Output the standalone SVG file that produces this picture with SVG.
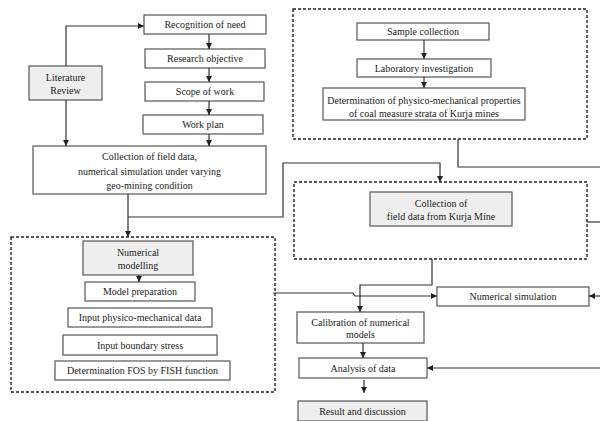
<svg xmlns="http://www.w3.org/2000/svg" width="600" height="421" viewBox="0 0 600 421">
<defs>
<marker id="ah" viewBox="0 0 6 6" refX="6" refY="3" markerWidth="6" markerHeight="6" markerUnits="userSpaceOnUse" orient="auto">
<path d="M0,0 L6,3 L0,6 z" fill="#222"/>
</marker>
<style>
.box{fill:#fff;stroke:#555;stroke-width:1.2}
.gbox{fill:#eeeeee;stroke:#555;stroke-width:1.2}
.dash{fill:none;stroke:#222;stroke-width:1.4;stroke-dasharray:3 2}
.t{font-family:"Liberation Serif","Times New Roman",serif;font-size:10px;fill:#222;text-anchor:middle}
.c{fill:none;stroke:#333;stroke-width:1.2}
.ca{fill:none;stroke:#333;stroke-width:1.2;marker-end:url(#ah)}
</style>
</defs>
<rect width="600" height="421" fill="#fff"/>

<g id="group-top-right">
<rect class="dash" x="293" y="9" width="294" height="130"/>
</g>
<g id="group-kurja">
<rect class="dash" x="294" y="182" width="293" height="77"/>
</g>
<g id="group-modelling">
<rect class="dash" x="11" y="237" width="264" height="155"/>
</g>

<g id="n-recognition"><rect class="box" x="144" y="15" width="122" height="19"/><text class="t" x="205" y="28">Recognition of need</text></g>
<g id="n-objective"><rect class="box" x="145" y="49" width="120" height="19"/><text class="t" x="205" y="62">Research objective</text></g>
<g id="n-scope"><rect class="box" x="145" y="82" width="119" height="19"/><text class="t" x="205" y="95">Scope of work</text></g>
<g id="n-workplan"><rect class="box" x="143" y="115" width="120" height="19"/><text class="t" x="203" y="128">Work plan</text></g>
<g id="n-literature"><rect class="gbox" x="29" y="66" width="73" height="34"/><text class="t" x="65.5" y="80.5">Literature</text><text class="t" x="65.5" y="94">Review</text></g>
<g id="n-collection"><rect class="box" x="33" y="146" width="233" height="48"/>
<text class="t" x="149.5" y="159.5">Collection of field data,</text>
<text class="t" x="149.5" y="174.5">numerical simulation under varying</text>
<text class="t" x="149.5" y="188.5">geo-mining condition</text></g>

<g id="n-sample"><rect class="box" x="357" y="23" width="132" height="17"/><text class="t" x="423" y="35">Sample collection</text></g>
<g id="n-lab"><rect class="box" x="357" y="59" width="134" height="18"/><text class="t" x="424" y="71.5">Laboratory investigation</text></g>
<g id="n-determination"><rect class="box" x="323" y="88" width="202" height="32"/>
<text class="t" x="424" y="103.5">Determination of physico-mechanical properties</text>
<text class="t" x="424" y="116.5">of coal measure strata of Kurja mines</text></g>

<g id="n-kurja"><rect class="gbox" x="370" y="192" width="142" height="34"/>
<text class="t" x="441" y="206.5">Collection of</text>
<text class="t" x="441" y="219.5">field data from Kurja Mine</text></g>

<g id="n-nummodel"><rect class="gbox" x="83" y="241" width="110" height="34"/>
<text class="t" x="138" y="255.5">Numerical</text><text class="t" x="138" y="268.5">modelling</text></g>
<g id="n-modelprep"><rect class="box" x="85" y="282" width="110" height="19"/><text class="t" x="140" y="295">Model preparation</text></g>
<g id="n-input-pm"><rect class="box" x="68" y="308" width="144" height="19"/><text class="t" x="140" y="321">Input physico-mechanical data</text></g>
<g id="n-input-bs"><rect class="box" x="63" y="335" width="154" height="20"/><text class="t" x="140" y="348.5">Input boundary stress</text></g>
<g id="n-fos"><rect class="box" x="55" y="361" width="175" height="19"/><text class="t" x="142.5" y="374">Determination FOS by FISH function</text></g>

<g id="n-numsim"><rect class="box" x="437" y="287" width="152" height="19"/><text class="t" x="513" y="300">Numerical simulation</text></g>
<g id="n-calibration"><rect class="box" x="297" y="312" width="127" height="31"/>
<text class="t" x="360.5" y="325.5">Calibration of numerical</text><text class="t" x="360.5" y="338">models</text></g>
<g id="n-analysis"><rect class="box" x="299" y="358" width="128" height="20"/><text class="t" x="363" y="371.5">Analysis of data</text></g>
<g id="n-result"><rect class="gbox" x="298" y="401" width="129" height="20"/><text class="t" x="362.5" y="415">Result and discussion</text></g>

<g id="connectors">
<path class="ca" d="M66,66 V26 H144"/>
<path class="ca" d="M66,100 V146"/>
<path class="ca" d="M209,34 V49"/>
<path class="ca" d="M209,68 V82"/>
<path class="ca" d="M209,101 V115"/>
<path class="ca" d="M209,134 V146"/>
<path class="ca" d="M128,194 V237"/>
<path class="ca" d="M128,217 H283 V163 H440 V182"/>
<path class="ca" d="M424,40 V59"/>
<path class="ca" d="M424,77 V88"/>
<path class="c" d="M458,139 V167 H600"/>
<path class="c" d="M587,222 H600"/>
<path class="ca" d="M139,275 V282"/>
<path class="ca" d="M273,293 H353 L355,296 H437"/>
<path class="ca" d="M432,259 V285 H360 V312"/>
<path class="ca" d="M600,296 H589"/>
<path class="ca" d="M363,343 V358"/>
<path class="ca" d="M600,368 H427"/>
<path class="ca" d="M364,380 V393"/>
</g>
</svg>
